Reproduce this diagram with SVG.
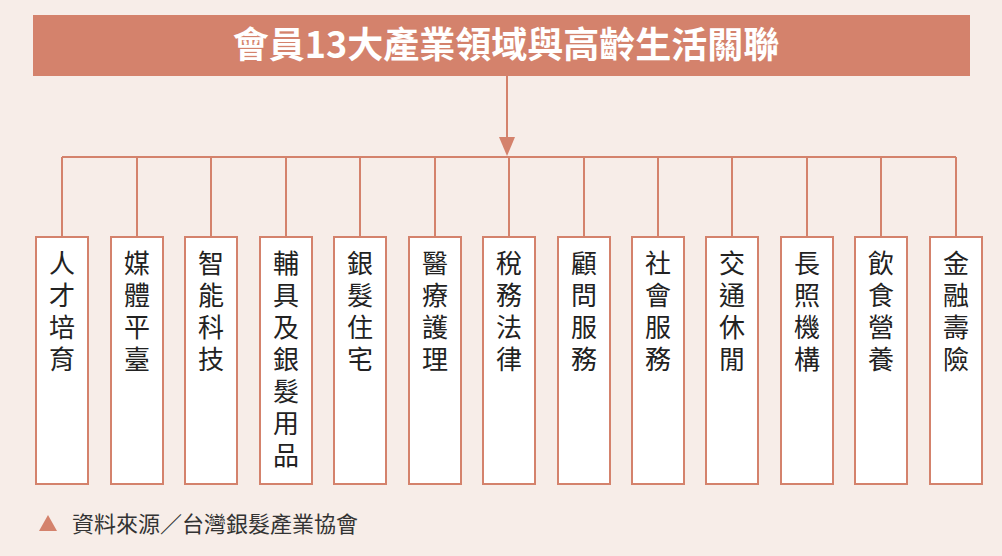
<svg xmlns="http://www.w3.org/2000/svg" width="1002" height="556" viewBox="0 0 1002 556">
<style>
.box{fill:#fff;stroke:#d4826c;stroke-width:2}
.ln{stroke:#d4826c;stroke-width:2;fill:none}
.t{font-family:"Noto Sans CJK TC","Noto Sans CJK SC",sans-serif;font-size:26px;fill:#222;text-anchor:middle}
</style>
<rect width="1002" height="556" fill="#f7ede8"/>
<g id="title"><rect x="33" y="15" width="937" height="61" fill="#d4826c"/>
<text x="506" y="58" font-family="'Noto Sans CJK TC','Noto Sans CJK SC',sans-serif" font-size="36" font-weight="bold" fill="#fff" text-anchor="middle">會員13大產業領域與高齡生活關聯</text></g>
<g id="connectors">
<line class="ln" x1="507" y1="76" x2="507" y2="140"/>
<polygon points="499,137 515,137 507,156" fill="#d4826c"/>
<line class="ln" x1="62" y1="157" x2="956" y2="157"/>
<path class="ln" d="M62 157V237M137 157V237M211 157V237M286 157V237M360 157V237M435 157V237M509 157V237M584 157V237M658 157V237M732 157V237M807 157V237M881 157V237M956 157V237"/>
</g>
<g id="n1"><rect class="box" x="36" y="237" width="52" height="247"/><text class="t" x="62"><tspan x="62" y="273">人</tspan><tspan x="62" y="305">才</tspan><tspan x="62" y="337">培</tspan><tspan x="62" y="369">育</tspan></text></g>
<g id="n2"><rect class="box" x="111" y="237" width="52" height="247"/><text class="t"><tspan x="137" y="273">媒</tspan><tspan x="137" y="305">體</tspan><tspan x="137" y="337">平</tspan><tspan x="137" y="369">臺</tspan></text></g>
<g id="n3"><rect class="box" x="185" y="237" width="52" height="247"/><text class="t"><tspan x="211" y="273">智</tspan><tspan x="211" y="305">能</tspan><tspan x="211" y="337">科</tspan><tspan x="211" y="369">技</tspan></text></g>
<g id="n4"><rect class="box" x="260" y="237" width="52" height="247"/><text class="t"><tspan x="286" y="273">輔</tspan><tspan x="286" y="305">具</tspan><tspan x="286" y="337">及</tspan><tspan x="286" y="369">銀</tspan><tspan x="286" y="401">髮</tspan><tspan x="286" y="433">用</tspan><tspan x="286" y="465">品</tspan></text></g>
<g id="n5"><rect class="box" x="334" y="237" width="52" height="247"/><text class="t"><tspan x="360" y="273">銀</tspan><tspan x="360" y="305">髮</tspan><tspan x="360" y="337">住</tspan><tspan x="360" y="369">宅</tspan></text></g>
<g id="n6"><rect class="box" x="409" y="237" width="52" height="247"/><text class="t"><tspan x="435" y="273">醫</tspan><tspan x="435" y="305">療</tspan><tspan x="435" y="337">護</tspan><tspan x="435" y="369">理</tspan></text></g>
<g id="n7"><rect class="box" x="483" y="237" width="52" height="247"/><text class="t"><tspan x="509" y="273">稅</tspan><tspan x="509" y="305">務</tspan><tspan x="509" y="337">法</tspan><tspan x="509" y="369">律</tspan></text></g>
<g id="n8"><rect class="box" x="558" y="237" width="52" height="247"/><text class="t"><tspan x="584" y="273">顧</tspan><tspan x="584" y="305">問</tspan><tspan x="584" y="337">服</tspan><tspan x="584" y="369">務</tspan></text></g>
<g id="n9"><rect class="box" x="632" y="237" width="52" height="247"/><text class="t"><tspan x="658" y="273">社</tspan><tspan x="658" y="305">會</tspan><tspan x="658" y="337">服</tspan><tspan x="658" y="369">務</tspan></text></g>
<g id="n10"><rect class="box" x="706" y="237" width="52" height="247"/><text class="t"><tspan x="732" y="273">交</tspan><tspan x="732" y="305">通</tspan><tspan x="732" y="337">休</tspan><tspan x="732" y="369">閒</tspan></text></g>
<g id="n11"><rect class="box" x="781" y="237" width="52" height="247"/><text class="t"><tspan x="807" y="273">長</tspan><tspan x="807" y="305">照</tspan><tspan x="807" y="337">機</tspan><tspan x="807" y="369">構</tspan></text></g>
<g id="n12"><rect class="box" x="855" y="237" width="52" height="247"/><text class="t"><tspan x="881" y="273">飲</tspan><tspan x="881" y="305">食</tspan><tspan x="881" y="337">營</tspan><tspan x="881" y="369">養</tspan></text></g>
<g id="n13"><rect class="box" x="930" y="237" width="52" height="247"/><text class="t"><tspan x="956" y="273">金</tspan><tspan x="956" y="305">融</tspan><tspan x="956" y="337">壽</tspan><tspan x="956" y="369">險</tspan></text></g>
<g id="footer"><polygon points="48,515 57,531 39,531" fill="#d4826c"/>
<text x="72" y="532" font-family="'Noto Sans CJK TC','Noto Sans CJK SC',sans-serif" font-size="22" fill="#333">資料來源／台灣銀髮產業協會</text></g>
</svg>
